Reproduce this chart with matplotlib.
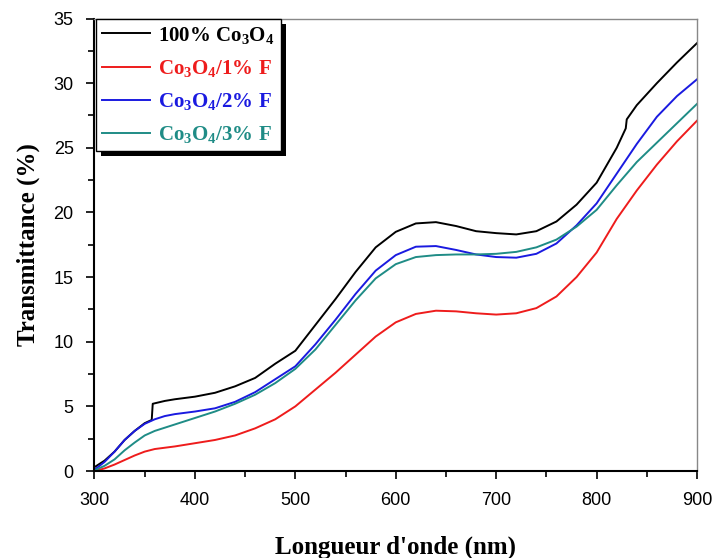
import matplotlib
matplotlib.use('Agg')
import matplotlib.pyplot as plt
from matplotlib.patches import Rectangle
from matplotlib.transforms import IdentityTransform
from matplotlib.ticker import MultipleLocator

plt.rcParams['mathtext.fontset'] = 'custom'
plt.rcParams['mathtext.rm'] = 'Liberation Serif:bold'
plt.rcParams['mathtext.default'] = 'rm'

# wavelength grids (nm)
wl_black = [300, 310, 320, 330, 340, 350, 357, 358, 370, 380, 400, 420, 440, 460, 480,
            500, 520, 540, 560, 580, 600, 620, 640, 660, 680, 700, 720, 740, 760, 780,
            800, 820, 829, 830, 840, 860, 880, 900]
wl = [300, 310, 320, 330, 340, 350, 360, 370, 380, 400, 420, 440, 460, 480,
      500, 520, 540, 560, 580, 600, 620, 640, 660, 680, 700, 720, 740, 760, 780,
      800, 820, 840, 860, 880, 900]

# transmittance (%)
t_pure = [0.3, 0.8, 1.5, 2.4, 3.1, 3.7, 3.95, 5.2, 5.42, 5.55, 5.75, 6.05, 6.55, 7.2, 8.3,
          9.3, 11.3, 13.3, 15.4, 17.3, 18.5, 19.15, 19.25, 18.95, 18.55, 18.4, 18.3, 18.55, 19.3, 20.6,
          22.3, 25.0, 26.5, 27.2, 28.3, 30.0, 31.6, 33.1]
t_1F = [0.0, 0.2, 0.5, 0.85, 1.2, 1.5, 1.7, 1.8, 1.9, 2.15, 2.4, 2.75, 3.3, 4.0,
        5.0, 6.3, 7.6, 9.0, 10.4, 11.5, 12.15, 12.4, 12.35, 12.2, 12.1, 12.2, 12.6, 13.5, 15.0,
        16.9, 19.5, 21.7, 23.7, 25.5, 27.1]
t_2F = [0.1, 0.7, 1.5, 2.4, 3.1, 3.65, 4.0, 4.25, 4.4, 4.6, 4.85, 5.35, 6.1, 7.1,
        8.1, 9.8, 11.7, 13.7, 15.5, 16.7, 17.35, 17.4, 17.1, 16.75, 16.55, 16.5, 16.8, 17.6, 19.0,
        20.7, 23.0, 25.3, 27.4, 29.0, 30.3]
t_3F = [0.05, 0.4, 0.9, 1.6, 2.2, 2.75, 3.1, 3.35, 3.6, 4.1, 4.6, 5.2, 5.9, 6.8,
        7.9, 9.4, 11.3, 13.2, 14.9, 16.0, 16.55, 16.7, 16.75, 16.75, 16.8, 16.95, 17.3, 17.9, 18.9,
        20.2, 22.1, 23.9, 25.4, 26.9, 28.4]

labels = ['100% Co$_3$O$_4$', 'Co$_3$O$_4$/1% F', 'Co$_3$O$_4$/2% F', 'Co$_3$O$_4$/3% F']
colors = ['#000000', '#ee1c1c', '#1a1ae0', '#1f8c86']

fig = plt.figure(figsize=(7.12, 5.58), dpi=100)
ax = fig.add_axes([0.1327, 0.1559, 0.979 - 0.1327, 0.9668 - 0.1559])

ax.plot(wl_black, t_pure, color=colors[0], lw=1.4, label=labels[0])
ax.plot(wl, t_1F, color=colors[1], lw=1.4, label=labels[1])
ax.plot(wl, t_2F, color=colors[2], lw=1.4, label=labels[2])
ax.plot(wl, t_3F, color=colors[3], lw=1.4, label=labels[3])

ax.set_xlim(300, 900)
ax.set_ylim(0, 35)
ax.xaxis.set_major_locator(MultipleLocator(100))
ax.xaxis.set_minor_locator(MultipleLocator(50))
ax.yaxis.set_major_locator(MultipleLocator(5))
ax.yaxis.set_minor_locator(MultipleLocator(2.5))
ax.tick_params(which='both', direction='out', width=1.2, labelsize=13,
               top=False, right=False)
ax.tick_params(axis='x', pad=9)
ax.tick_params(axis='y', pad=9)
ax.tick_params(which='major', length=6)
ax.tick_params(which='minor', length=4)
for lab in ax.get_xticklabels() + ax.get_yticklabels():
    lab.set_family('Liberation Sans')

for s in ['left', 'bottom']:
    ax.spines[s].set_linewidth(1.5)
for s in ['top', 'right']:
    ax.spines[s].set_linewidth(1.0)
    ax.spines[s].set_color('#888888')

ax.set_xlabel("Longueur d'onde (nm)", family='Liberation Serif', weight='bold',
              fontsize=18, labelpad=19)
ax.set_ylabel('Transmittance (%)', family='Liberation Serif', weight='bold',
              fontsize=18, labelpad=10)

leg = ax.legend(loc='upper left', bbox_to_anchor=(0.002, 1.0), borderaxespad=0,
                prop={'family': 'Liberation Serif', 'weight': 'bold', 'size': 15},
                frameon=True, fancybox=False, edgecolor='black', framealpha=1,
                handlelength=2.3, handletextpad=0.4, labelspacing=0.58,
                borderpad=0.3)
leg.get_frame().set_linewidth(1.0)
for txt, c in zip(leg.get_texts(), colors):
    txt.set_color(c)

# black drop shadow behind the legend
fig.canvas.draw()
bb = leg.get_window_extent()
ax.add_patch(Rectangle((bb.x0 + 5, bb.y0 - 5), bb.width, bb.height,
                       transform=IdentityTransform(), facecolor='black',
                       edgecolor='none', zorder=4.9, clip_on=False))

fig.savefig('out.png', dpi=100)
